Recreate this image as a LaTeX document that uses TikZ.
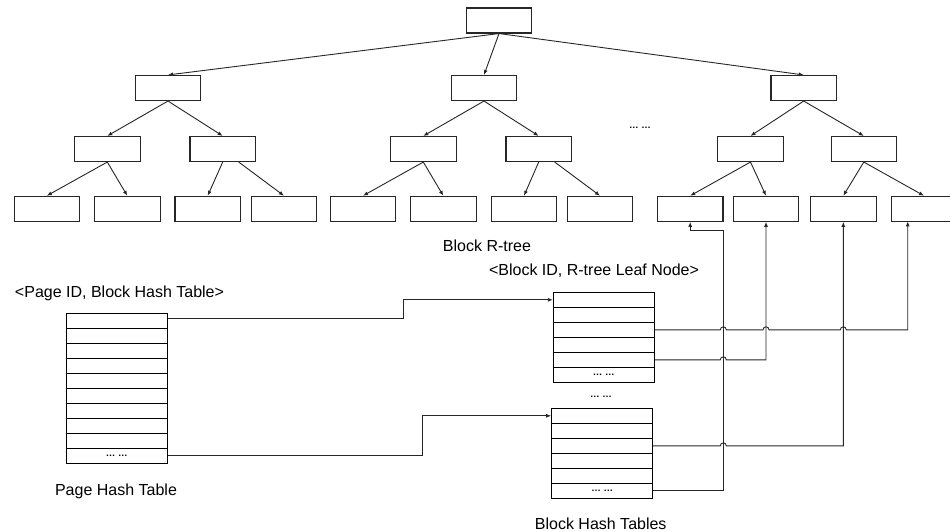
\documentclass[tikz,border=0pt]{standalone}
\usepackage{fontspec}
\setmainfont{Liberation Sans}
\usepackage{tikz}
\usetikzlibrary{
    arrows.meta,
    positioning,
    calc
}
\tikzstyle{treebox} = [
    draw=black!85,
    line width=1.1pt,
    minimum width=65.5pt,
    minimum height=25pt,
    inner sep=0pt
]
\tikzstyle{row} = [
    draw=black,
    line width=1pt,
    minimum width=101pt,
    minimum height=15pt,
    inner sep=0pt
]
\tikzstyle{arrow} = [
    -{Latex[length=5pt,width=4pt]},
    line width=0.9pt,
    draw=black!85
]
\tikzstyle{caption} = [
    font=\fontsize{16}{19}\selectfont
]
\tikzstyle{dots} = [
    font=\fontsize{9.5}{10}\selectfont\bfseries
]

\begin{document}
\begin{tikzpicture}[x=1pt, y=-1pt]
        \useasboundingbox (0,0) rectangle (950,532);

        % Root of the R-tree
        \node[treebox] (root) at (499,20.5) {};

        % Level 1
        \node[treebox] (n1) at (168,88) {};
        \node[treebox] (n2) at (484,88) {};
        \node[treebox] (n3) at (803.7,88) {};

        % Level 2
        \node[treebox] (m1) at (107.3,149) {};
        \node[treebox] (m2) at (222.7,149) {};
        \node[treebox] (m3) at (423.3,149) {};
        \node[treebox] (m4) at (538.7,149) {};
        \node[treebox] (m5) at (750.5,149) {};
        \node[treebox] (m6) at (863.8,149) {};

        % Leaf nodes
        \node[treebox] (l1) at (46.8,208.8) {};
        \node[treebox] (l2) at (127.3,208.8) {};
        \node[treebox] (l3) at (207.7,208.8) {};
        \node[treebox] (l4) at (284,208.8) {};
        \node[treebox] (l5) at (363,208.8) {};
        \node[treebox] (l6) at (443.3,208.8) {};
        \node[treebox] (l7) at (524,208.8) {};
        \node[treebox] (l8) at (600,208.8) {};
        \node[treebox] (l9) at (690.2,208.8) {};
        \node[treebox] (l10) at (766,208.8) {};
        \node[treebox] (l11) at (843.3,208.8) {};
        \node[treebox] (l12) at (924,208.8) {};

        % Tree arrows
        \draw[arrow] (root.south) -- (n1.north);
        \draw[arrow] (root.south) -- (n2.north);
        \draw[arrow] (root.south) -- (n3.north);
        \draw[arrow] (n1.south) -- (m1.north);
        \draw[arrow] (n1.south) -- (m2.north);
        \draw[arrow] (n2.south) -- (m3.north);
        \draw[arrow] (n2.south) -- (m4.north);
        \draw[arrow] (n3.south) -- (m5.north);
        \draw[arrow] (n3.south) -- (m6.north);
        \draw[arrow] (m1.south) -- (l1.north);
        \draw[arrow] (m1.south) -- (l2.north);
        \draw[arrow] (m2.south) -- (l3.north);
        \draw[arrow] ([xshift=16pt]m2.south) -- (l4.north);
        \draw[arrow] (m3.south) -- (l5.north);
        \draw[arrow] (m3.south) -- (l6.north);
        \draw[arrow] (m4.south) -- (l7.north);
        \draw[arrow] ([xshift=16pt]m4.south) -- (l8.north);
        \draw[arrow] (m5.south) -- (l9.north);
        \draw[arrow] (m5.south) -- (l10.north);
        \draw[arrow] (m6.south) -- (l11.north);
        \draw[arrow] (m6.south) -- (l12.north);

        \node[dots] (treegap) at (640,128) {… …};
        \node[caption] (treename) at (487,246) {Block R-tree};

        % Page hash table
        \node[caption] (pagekey) at (119.5,293.3) {<Page ID, Block Hash Table>};
        \foreach \i in {1,...,9}
            \node[row] (pa\i) at (116.7,{320.8+15*(\i-1)}) {};
        \node[row, dots] (pa10) at (116.7,455.8) {… …};
        \node[caption] (pagename) at (116,491) {Page Hash Table};

        % Block hash tables
        \node[caption] (leafkey) at (594,271) {<Block ID, R-tree Leaf Node>};
        \foreach \i in {1,...,5}
            \node[row] (ha\i) at (603.8,{299.8+15*(\i-1)}) {};
        \node[row, dots] (ha6) at (603.8,374.8) {… …};
        \node[dots] (tablegap) at (601,396.7) {… …};
        \foreach \i in {1,...,5}
            \node[row] (hb\i) at (602.2,{415.8+15*(\i-1)}) {};
        \node[row, dots] (hb6) at (602.2,490.8) {… …};
        \node[caption] (blockname) at (600.7,523.3) {Block Hash Tables};

        % Page table to block tables
        \coordinate (j1) at (403.7,318.3);
        \coordinate (j2) at (422.7,455.8);
        \draw[arrow] (pa1.east |- j1) -- (j1) |- (ha1.west);
        \draw[arrow] (pa10.east) -- (pa10.east -| j2) |- (hb1.west);

        % Block tables to leaf nodes (hops over crossings)
        \coordinate (v9) at (723.3,230.7);
        \coordinate (t12) at (907.7,221.3);
        \draw[arrow] (hb6.east) -| (v9) -| (l9.south);
        \draw[arrow] (ha3.east)
            -- ($(ha3.east -| v9)+(-3,0)$) arc[start angle=180, end angle=0, radius=3pt]
            -- ($(ha3.east -| l10.south)+(-3,0)$) arc[start angle=180, end angle=0, radius=3pt]
            -- ($(ha3.east -| l11.south)+(-3,0)$) arc[start angle=180, end angle=0, radius=3pt]
            -| (t12);
        \draw[arrow] (ha5.east)
            -- ($(ha5.east -| v9)+(-3,0)$) arc[start angle=180, end angle=0, radius=3pt]
            -| (l10.south);
        \draw[arrow] (hb3.east)
            -- ($(hb3.east -| v9)+(-3,0)$) arc[start angle=180, end angle=0, radius=3pt]
            -| (l11.south);
    \end{tikzpicture}
\end{document}
